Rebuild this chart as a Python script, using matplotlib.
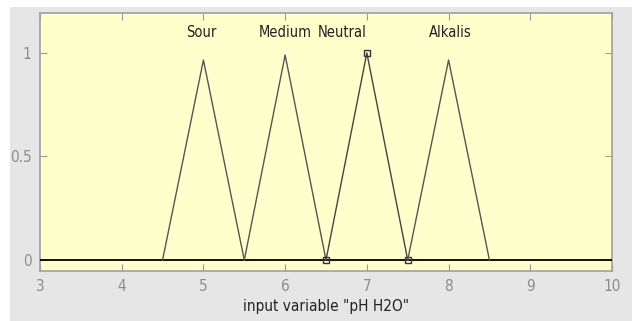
import matplotlib.pyplot as plt
from matplotlib.patches import Rectangle

# membership functions of "pH H2O": (start, peak, end, drawn peak height)
mf_names = ["Sour", "Medium", "Neutral", "Alkalis"]
mf_start = [4.5, 5.5, 6.5, 7.5]
mf_peak = [5.0, 6.0, 7.0, 8.0]
mf_end = [5.5, 6.5, 7.5, 8.5]
mf_height = [0.966, 0.99, 1.0, 0.966]
label_x = [4.97, 6.0, 6.7, 8.02]
selected = "Neutral"

x_ticks = [3, 4, 5, 6, 7, 8, 9, 10]
y_ticks = [0, 0.5, 1]
y_tick_labels = ["0", "0.5", "1"]

plt.rcParams["font.family"] = ["DejaVu Sans"]
plt.rcParams["font.stretch"] = "condensed"

fig = plt.figure(figsize=(6.32, 3.21), dpi=100)
fig.patch.set_facecolor("white")
W, H = 632, 321
bg = Rectangle((10 / W, 0), 1 - 10 / W, 1 - 7 / H, transform=fig.transFigure,
               facecolor="#e6e6e6", edgecolor="none", zorder=-10)
fig.add_artist(bg)

ax = fig.add_axes([40 / W, 1 - 271 / H, (612 - 40) / W, (271 - 13) / H])
ax.set_zorder(1)
ax.set_facecolor("#ffffcc")
ax.set_xlim(3, 10)
ax.set_ylim(-0.053, 1.193)

ax.axhline(0, color="black", linewidth=1.3, zorder=3)
for name, a, b, c, h in zip(mf_names, mf_start, mf_peak, mf_end, mf_height):
    if name == selected:
        ax.plot([a, b, c], [0, h, 0], color="#444444", linewidth=1.0,
                marker="s", markersize=5, markerfacecolor="none",
                markeredgecolor="#333333", zorder=4)
    else:
        ax.plot([a, b, c], [0, h, 0], color="#555555", linewidth=1.0, zorder=4)

for name, lx in zip(mf_names, label_x):
    ax.text(lx, 1.10, name, ha="center", va="center", fontsize=10.5,
            color="#222222", fontstretch="condensed")

ax.set_xticks(x_ticks)
ax.set_yticks(y_ticks)
ax.set_yticklabels(y_tick_labels)
ax.tick_params(direction="in", top=True, right=True, length=5,
               color="#999999", labelcolor="#8c8c8c", labelsize=11, pad=6)
for s in ax.spines.values():
    s.set_color("#a0a0a0")
    s.set_linewidth(1.2)
ax.set_xlabel('input variable "pH H2O"', fontsize=11, color="#222222",
              labelpad=3, fontstretch="condensed")

fig.savefig("out.png", dpi=100, facecolor=fig.get_facecolor())
